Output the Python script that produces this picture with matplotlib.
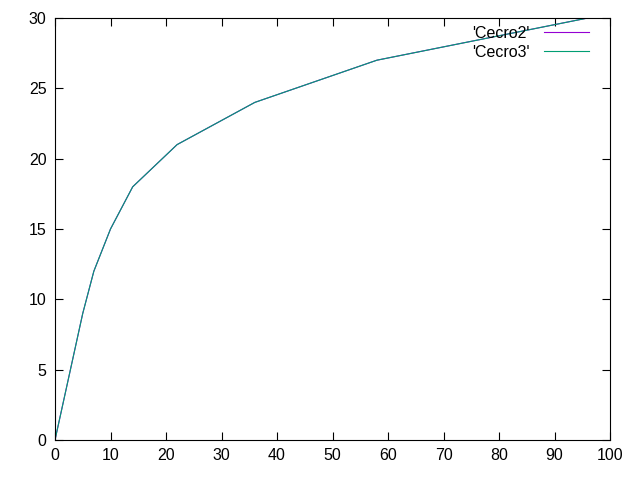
import matplotlib
matplotlib.use('Agg')
import matplotlib.pyplot as plt

# 两条曲线数据相同
x_vals = [0, 5, 7, 10, 14, 18, 22, 36, 58, 96]
cecro2 = [0, 9, 12, 15, 18, 19.5, 21, 24, 27, 30]
cecro3 = [0, 9, 12, 15, 18, 19.5, 21, 24, 27, 30]
labels = ["'Cecro2'", "'Cecro3'"]
colors = ['#9400d3', '#009e73']

plt.rcParams['font.family'] = ['Liberation Sans', 'DejaVu Sans']

fig = plt.figure(figsize=(6.4, 4.8), dpi=100)
ax = fig.add_axes([55 / 640, 40 / 480, 555 / 640, 422 / 480])

ax.plot(x_vals, cecro2, color=colors[0], lw=0.8, label=labels[0])
ax.plot(x_vals, cecro3, color=colors[1], lw=0.8, label=labels[1])

ax.set_xlim(0, 100)
ax.set_ylim(0, 30)
ax.set_xticks(range(0, 101, 10))
ax.set_yticks(range(0, 31, 5))
ax.tick_params(direction='in', length=6, width=0.8, top=True, right=True,
               labelsize=11.5, pad=6)
for sp in ax.spines.values():
    sp.set_linewidth(0.8)

ax.legend(loc='upper right', markerfirst=False, frameon=False, fontsize=11.5,
          handlelength=2.8, handletextpad=0.9, labelspacing=0.25,
          bbox_to_anchor=(0.979, 1.004), borderaxespad=0.2)

fig.savefig('out.png', dpi=100)
